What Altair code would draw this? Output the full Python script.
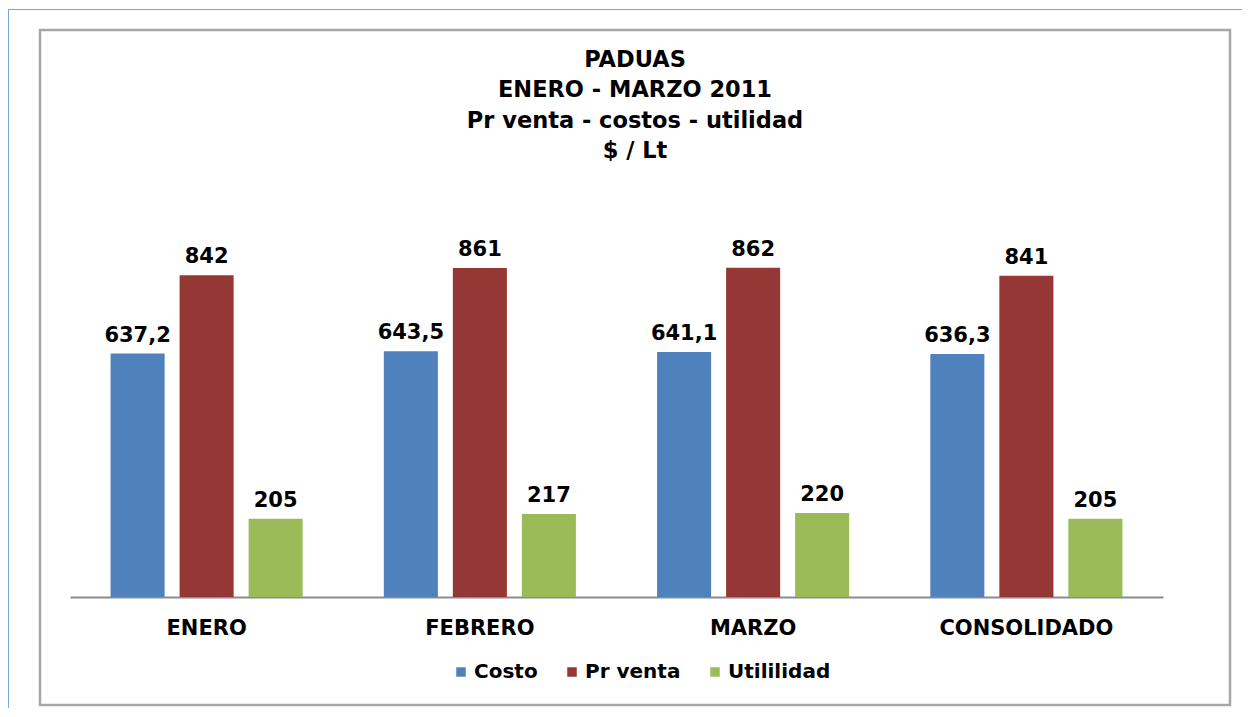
import altair as alt
import pandas as pd

# ---- data ----
categories = ["ENERO", "FEBRERO", "MARZO", "CONSOLIDADO"]
series = ["Costo", "Pr venta", "Utililidad"]
costo = [637.2, 643.5, 641.1, 636.3]
pr_venta = [842, 861, 862, 841]
utilidad = [205, 217, 220, 205]
title_lines = ["PADUAS", "ENERO - MARZO 2011", "Pr venta - costos - utilidad", "$ / Lt"]
colors = ["#4F81BD", "#953735", "#9BBB59"]

rows = []
for vals, s in zip([costo, pr_venta, utilidad], series):
    for c, v in zip(categories, vals):
        rows.append({"cat": c, "serie": s, "valor": v,
                     "label": f"{v:g}".replace(".", ",")})
df = pd.DataFrame(rows)
one = pd.DataFrame({"k": [0]})

FONT = "DejaVu Sans"
W, H = 1093, 382

x_enc = alt.X("cat:N", sort=categories,
              scale=alt.Scale(paddingInner=0.297, paddingOuter=0.1485),
              axis=alt.Axis(title=None, ticks=False, domainColor="#8C8C8C",
                            domainWidth=2, labelFont=FONT, labelFontSize=21,
                            labelFontWeight="bold", labelColor="#000000",
                            labelPadding=20, labelAngle=0))
xo_enc = alt.XOffset("serie:N", sort=series,
                     scale=alt.Scale(paddingInner=0.217, paddingOuter=0))
y_enc = alt.Y("valor:Q", scale=alt.Scale(domain=[0, 1000]), axis=None)

bars = alt.Chart(df).mark_bar().encode(
    x=x_enc, xOffset=xo_enc, y=y_enc,
    color=alt.Color("serie:N", sort=series,
                    scale=alt.Scale(domain=series, range=colors),
                    legend=alt.Legend(title=None, orient="none", direction="horizontal",
                                      legendX=381, legendY=447, symbolType="square",
                                      symbolSize=90, symbolStrokeWidth=0,
                                      labelFont=FONT, labelFontSize=20,
                                      labelFontWeight="bold", labelColor="#000000",
                                      labelOffset=3, columnPadding=24)),
)

labels = alt.Chart(df).mark_text(font=FONT, fontSize=21, fontWeight="bold",
                                 color="#000000", baseline="alphabetic", dy=-12).encode(
    x=x_enc, xOffset=xo_enc, y=y_enc, text="label:N")

# decorations
blue_v = alt.Chart(one).mark_rule(color="#7EA6DC", strokeWidth=1).encode(
    x=alt.value(-61.5), y=alt.value(-205), y2=alt.value(494))
blue_h = alt.Chart(one).mark_rule(color="#7EA6DC", strokeWidth=1).encode(
    x=alt.value(-62), x2=alt.value(1172), y=alt.value(-205.5))
box = alt.Chart(one).mark_rect(fill="transparent", stroke="#A6A6A6", strokeWidth=2.5).encode(
    x=alt.value(-30), x2=alt.value(1160), y=alt.value(-185), y2=alt.value(490))

title_layers = []
for i, line in enumerate(title_lines):
    title_layers.append(
        alt.Chart(one).mark_text(font=FONT, fontSize=22.5, fontWeight="bold",
                                 color="#000000", baseline="alphabetic", align="center").encode(
            x=alt.value(565), y=alt.value(-148 + i * 30.3), text=alt.value(line)))

chart = alt.layer(blue_v, blue_h, box, *title_layers, bars, labels).properties(
    width=W, height=H, autosize="none",
    padding={"left": 62, "top": 207, "right": 79, "bottom": 111},
    background="#FFFFFF",
).configure_view(strokeWidth=0)

chart.save("out.html", embed_options={"renderer": "svg", "actions": False})
